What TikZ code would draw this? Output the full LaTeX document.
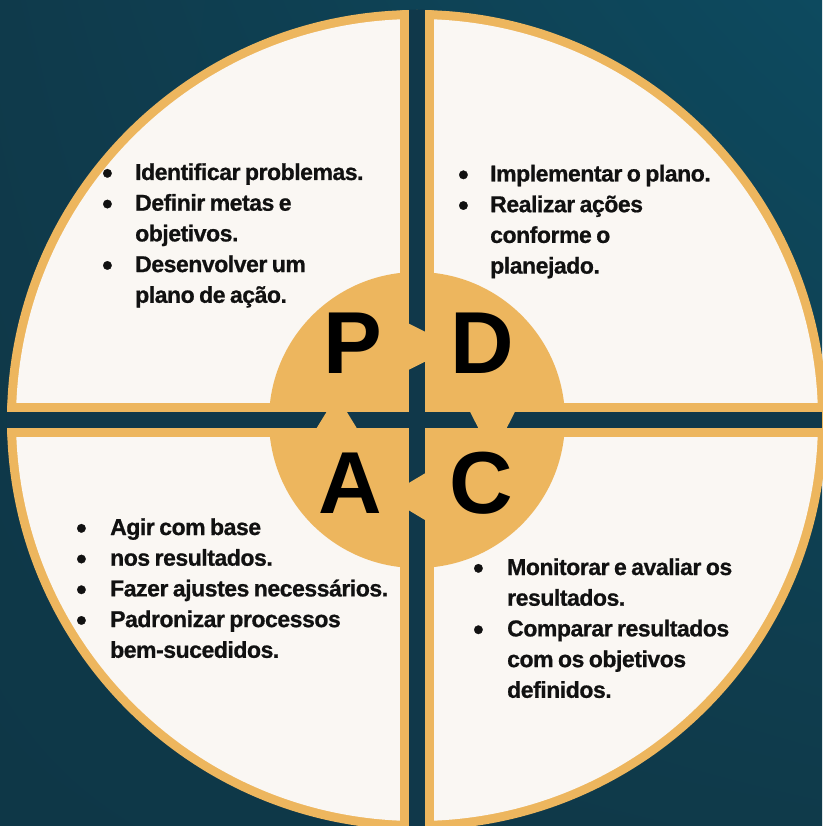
\documentclass[tikz,border=0pt]{standalone}
\usepackage{fontspec}
\usetikzlibrary{shadings}
\setmainfont{Liberation Sans}
\newfontfamily\bodyfont[LetterSpace=-2, WordSpace=0.75, BoldFeatures={FakeBold=0.8}]{Liberation Sans}
\definecolor{orng}{HTML}{EDB65E}
\definecolor{cream}{HTML}{FAF7F3}
\definecolor{darkband}{HTML}{10384A}
\definecolor{bgUL}{HTML}{0F3A4B}
\definecolor{bgUR}{HTML}{0D4A5F}
\definecolor{bgLL}{HTML}{0E3747}
\definecolor{bgLR}{HTML}{0F3A4A}
\definecolor{ink}{HTML}{111111}
\newcommand{\blt}{\raisebox{-3.2pt}{\scalebox{1.3}{\textbullet}}}
\tikzset{
  letter/.style={inner sep=0pt, text=black, font=\fontsize{88}{88}\selectfont\bfseries},
  lst/.style={anchor=base west, inner sep=0pt, text=ink, font=\bodyfont\bfseries\fontsize{23}{30.7}\selectfont}
}
\begin{document}
\begin{tikzpicture}[x=1pt,y=-1pt]
\useasboundingbox (0,0) rectangle (822,826);
\shade[upper left=bgUL, upper right=bgUR, lower left=bgLL, lower right=bgLR] (0,0) rectangle (822,826);
% big circle with quadrants
\fill[orng] (417,420) circle[radius=410];
\fill[cream] (417,420) circle[radius=401];
\begin{scope}
  \clip (417,420) circle[radius=410];
  \fill[orng] (400,0) rectangle (434,826);
  \fill[orng] (0,403) rectangle (822,437);
\end{scope}
% centre circle
\fill[orng] (417,420) circle[radius=148];
% dark gaps
\begin{scope}
  \clip (417,420) circle[radius=410.5];
  \fill[darkband] (409,0) rectangle (425,826);
  \fill[darkband] (0,412) rectangle (822,428);
\end{scope}
% arrow notches
\fill[orng] (407,323.3) -- (408.3,323.3) -- (425,331.7) -- (425,361.7) -- (408.3,370) -- (407,370) -- cycle;
\fill[orng] (470,411.7) -- (515,411.7) -- (506.7,428) -- (478.3,428) -- cycle;
\fill[orng] (426,473.3) -- (425,473.3) -- (408.3,483.3) -- (408.3,510) -- (425,520) -- (426,520) -- cycle;
\fill[orng] (316.7,428) -- (356.7,428) -- (346.7,411.7) -- (326.7,411.7) -- cycle;
% letters
\node[letter] (P) at (353,343) {P};
\node[letter] (D) at (482,343) {D};
\node[letter] (A) at (350,483) {A};
\node[letter] (C) at (481,483) {C};
% lists
\node[lst] (plist) at (102,180) {\begin{tabular}[t]{@{}p{33pt}@{}l@{}}
\blt & Identificar problemas.\\
\blt & Definir metas e\\
 & objetivos.\\
\blt & Desenvolver um\\
 & plano de ação.
\end{tabular}};
\node[lst] (dlist) at (458,181.5) {\begin{tabular}[t]{@{}p{32pt}@{}l@{}}
\blt & Implementar o plano.\\
\blt & Realizar ações\\
 & conforme o\\
 & planejado.
\end{tabular}};
\node[lst] (alist) at (76,535) {\begin{tabular}[t]{@{}p{34pt}@{}l@{}}
\blt & Agir com base\\
\blt & nos resultados.\\
\blt & Fazer ajustes necessários.\\
\blt & Padronizar processos\\
 & bem-sucedidos.
\end{tabular}};
\node[lst] (clist) at (473,575) {\begin{tabular}[t]{@{}p{34pt}@{}l@{}}
\blt & Monitorar e avaliar os\\
 & resultados.\\
\blt & Comparar resultados\\
 & com os objetivos\\
 & definidos.
\end{tabular}};
\end{tikzpicture}
\end{document}
